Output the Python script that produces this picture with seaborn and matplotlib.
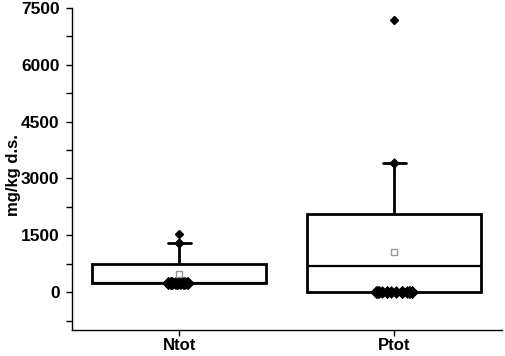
import matplotlib
matplotlib.use("Agg")
import matplotlib.pyplot as plt
import matplotlib.ticker as mticker
import numpy as np
import pandas as pd
import seaborn as sns

# data (mg/kg d.s.)
groups = ["Ntot", "Ptot"]
ntot = ([250] * 21
        + [300, 350, 400, 450, 500, 550, 600, 650, 700, 750]
        + [800, 850, 900, 950, 1000, 1080, 1150, 1220, 1294, 1531])
ptot = ([0] * 18 + [250, 450, 687]
        + [800, 950, 1050, 1200, 1350, 1500, 1650, 1800, 1950, 2060]
        + [2150, 2250, 2400, 2550, 2700, 2850, 3000, 3200, 3407, 7183])
means = [475, 1056]
whisker_tops = [1294, 3407]

df = pd.DataFrame({
    "group": ["Ntot"] * len(ntot) + ["Ptot"] * len(ptot),
    "value": ntot + ptot,
})

sns.set_style("ticks")
plt.rcParams["font.family"] = ["Liberation Sans", "DejaVu Sans"]
plt.rcParams["font.weight"] = "bold"
for key in ["text.color", "axes.labelcolor", "xtick.color", "ytick.color", "axes.edgecolor"]:
    plt.rcParams[key] = "black"

fig = plt.figure(figsize=(5.05, 3.56), dpi=100)
ax = fig.add_axes([0.1426, 0.073, 0.851, 0.9045])

sns.boxplot(data=df, x="group", y="value", order=groups, width=0.81,
            whis=1.5, capwidths=0.11, ax=ax,
            boxprops=dict(facecolor="white", edgecolor="black", linewidth=2),
            medianprops=dict(color="black", linewidth=1.6),
            whiskerprops=dict(color="black", linewidth=2),
            capprops=dict(color="black", linewidth=2),
            flierprops=dict(marker="D", markerfacecolor="black",
                            markeredgecolor="black", markersize=4.5))

# cluster of lowest values drawn as overlapping diamonds
np.random.seed(1)
low = df[df["value"] == df.groupby("group")["value"].transform("min")]
sns.stripplot(data=low[low["group"] == "Ntot"], x="group", y="value", order=groups,
              jitter=0.055, marker="D", color="black", edgecolor="black",
              linewidth=0.5, size=6, ax=ax)
sns.stripplot(data=low[low["group"] == "Ptot"], x="group", y="value", order=groups,
              jitter=0.09, marker="D", color="black", edgecolor="black",
              linewidth=0.5, size=6, ax=ax)

# whisker end markers
sns.stripplot(x=groups, y=whisker_tops, order=groups, jitter=False,
              marker="D", color="black", edgecolor="black", linewidth=0.5,
              size=5, ax=ax)

# mean markers
sns.stripplot(x=groups, y=means, order=groups, jitter=False, marker="s",
              color="white", edgecolor="gray", linewidth=1, size=4, ax=ax)

ax.set_xlim(-0.5, 1.5)
ax.set_ylim(-1000, 7500)
ax.yaxis.set_major_locator(mticker.MultipleLocator(1500))
ax.yaxis.set_minor_locator(mticker.MultipleLocator(750))
ax.tick_params(axis="y", which="major", length=4, width=1, labelsize=12.5, pad=5)
ax.tick_params(axis="y", which="minor", length=4, width=1)
ax.tick_params(axis="x", length=4, width=1, labelsize=12, pad=2)
for lab in ax.get_xticklabels() + ax.get_yticklabels():
    lab.set_fontweight("bold")

ax.set_xlabel("")
ax.set_ylabel("mg/kg d.s.", fontsize=12, fontweight="bold")
ax.yaxis.set_label_coords(-0.118, 0.48)
sns.despine(ax=ax)
for s in ["left", "bottom"]:
    ax.spines[s].set_linewidth(1)
    ax.spines[s].set_color("black")

fig.savefig("out.png", dpi=100)
